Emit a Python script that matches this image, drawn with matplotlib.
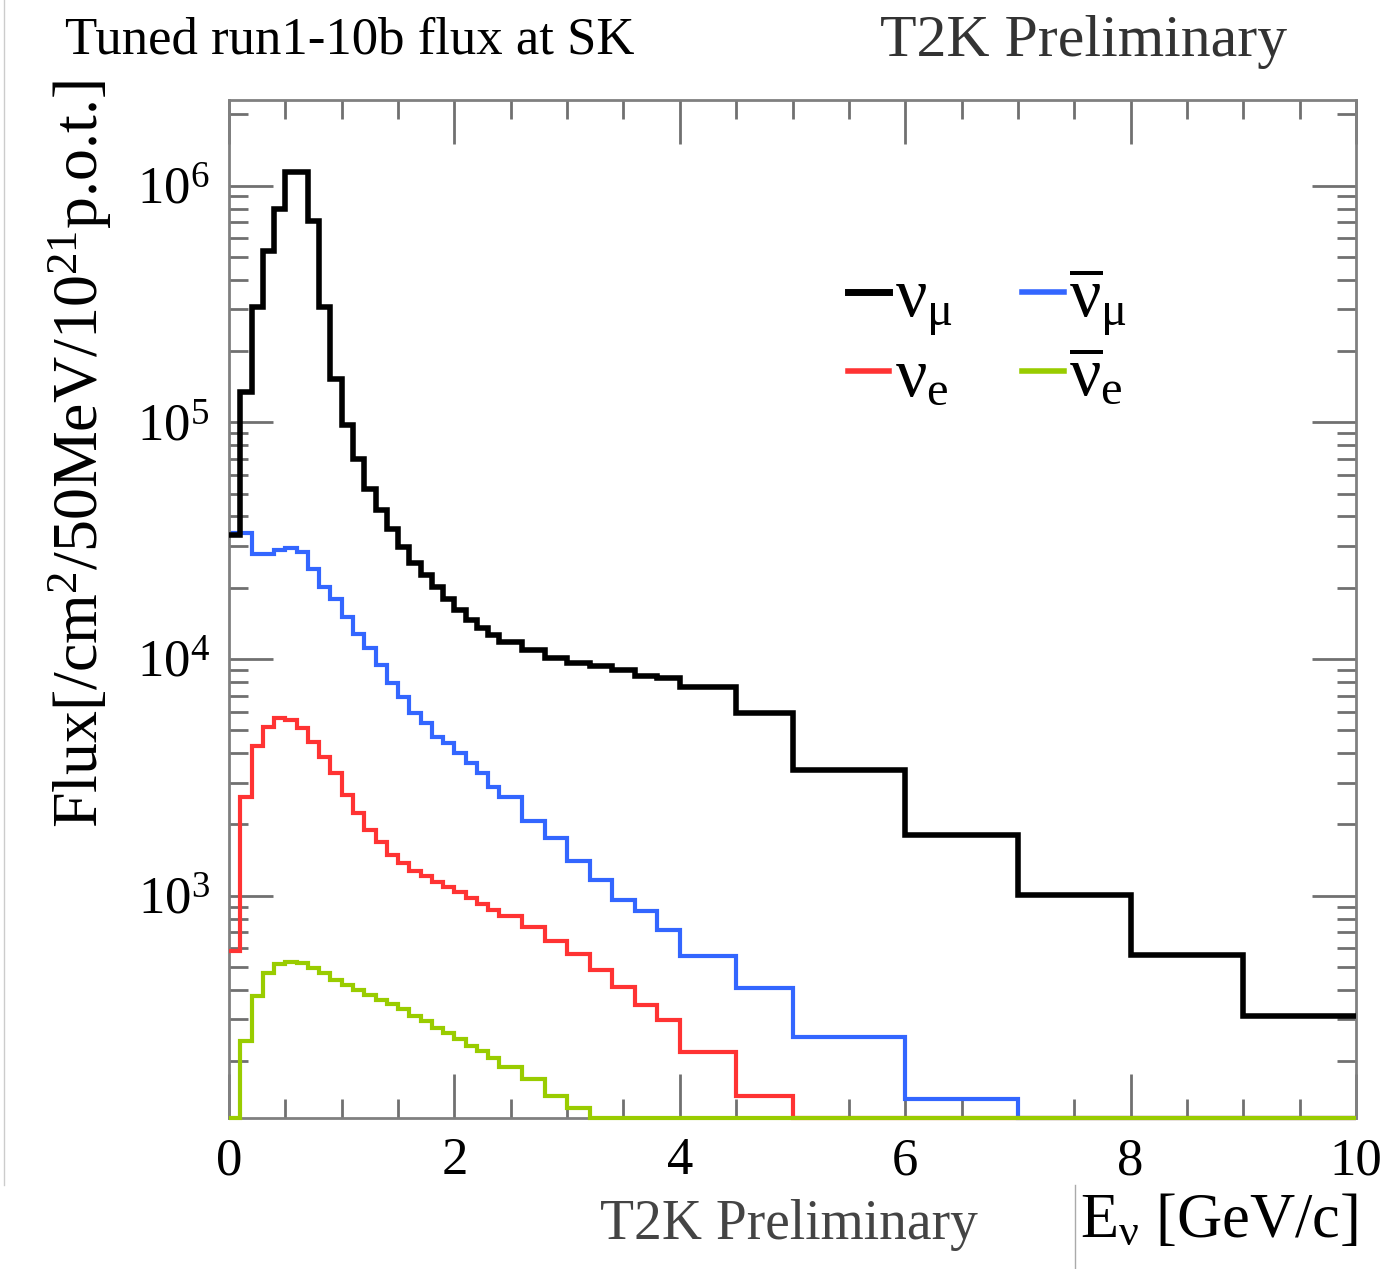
import matplotlib
matplotlib.use("Agg")
import matplotlib.pyplot as plt
import matplotlib.ticker as ticker
from matplotlib.lines import Line2D
import numpy as np

# binning of the flux histograms (GeV)
edges = np.concatenate([np.arange(0, 2.41, 0.1),
                        np.arange(2.6, 4.01, 0.2),
                        [4.5, 5, 6, 7, 8, 9, 10]])

numu = [33300, 134000, 306000, 530000, 798000, 1140000, 1140000, 710000,
        306000, 153000, 97000, 70000, 52500, 42500, 35300, 29800, 25400,
        22600, 20200, 18000, 16100, 14600, 13500, 12600,
        11800, 10900, 10100, 9600, 9300, 8970, 8500, 8350,
        7640, 5920, 3400, 1810, 1010, 564, 310]

numubar = [33900, 33900, 27900, 27900, 28800, 29300, 28400, 24100, 20200,
           18000, 15100, 12800, 11100, 9430, 7900, 6930, 5900, 5360, 4700,
           4400, 4000, 3630, 3300, 2890,
           2600, 2060, 1750, 1400, 1170, 962, 859, 719,
           555, 409, 254, 138, 0, 0, 0]

nue = [582, 2620, 4270, 5180, 5620, 5530, 5100, 4480, 3870, 3300, 2670,
       2230, 1900, 1690, 1490, 1370, 1270, 1210, 1140, 1090, 1040, 980,
       925, 870,
       821, 738, 641, 566, 483, 412, 345, 299,
       218, 142, 0, 0, 0, 0, 0]

nuebar = [0, 243, 376, 472, 512, 523, 517, 496, 472, 442, 421, 401, 382,
          364, 347, 331, 310, 295, 277, 264, 247, 232, 221, 207,
          188, 168, 143, 127, 0, 0, 0, 0,
          0, 0, 0, 0, 0, 0, 0]

ymin, ymax = 115, 2.3e6

plt.rcParams['font.family'] = ['Liberation Serif', 'DejaVu Serif']
plt.rcParams['mathtext.fontset'] = 'custom'
plt.rcParams['mathtext.rm'] = 'Liberation Serif'
plt.rcParams['mathtext.it'] = 'Liberation Serif'
plt.rcParams['mathtext.bf'] = 'Liberation Serif:bold'

fig = plt.figure(figsize=(13.84, 12.69), dpi=100)
ax = fig.add_axes([229/1384, 1 - 1118/1269, (1356 - 229)/1384, (1118 - 100)/1269])

# ROOT draws empty bins on the lower frame
series = [(numubar, '#3366ff', 3, r'$\overline{\nu}_{\mu}$', 2),
          (nue, '#ff3333', 3, r'$\nu_{e}$', 3),
          (nuebar, '#99cc00', 3, r'$\overline{\nu}_{e}$', 4),
          (numu, 'black', 4, r'$\nu_{\mu}$', 5)]
handles = {}
for vals, col, lw, lab, z in series:
    v = np.maximum(np.array(vals, dtype=float), ymin)
    ax.stairs(v, edges, color=col, lw=lw, baseline=None,
              zorder=z, clip_on=False)
    handles[lab] = Line2D([], [], color=col, lw=lw + 1)

ax.set_yscale('log')
ax.set_xlim(0, 10)
ax.set_ylim(ymin, ymax)

for s in ax.spines.values():
    s.set_color('#808080')
    s.set_linewidth(2)

ax.xaxis.set_major_locator(ticker.MultipleLocator(2))
ax.xaxis.set_minor_locator(ticker.MultipleLocator(0.5))
ax.yaxis.set_major_locator(ticker.LogLocator(base=10))
ax.yaxis.set_minor_locator(ticker.LogLocator(base=10, subs=np.arange(2, 10)))
ax.yaxis.set_minor_formatter(ticker.NullFormatter())
ax.tick_params(which='both', direction='in', top=True, right=True,
               color='#707070', width=2, labelsize=38)
ax.tick_params(which='major', length=32)
ax.tick_params(which='minor', length=14)
ax.tick_params(axis='y', pad=14)
ax.tick_params(axis='x', pad=14)

order = [r'$\nu_{\mu}$', r'$\nu_{e}$', r'$\overline{\nu}_{\mu}$', r'$\overline{\nu}_{e}$']
ax.legend([handles[k] for k in order], order, ncol=2, frameon=False,
          fontsize=50, handlelength=0.6, handletextpad=0.08,
          columnspacing=1.0, labelspacing=0.12, borderpad=0,
          loc='upper left', bbox_to_anchor=(813/1384, 1 - 231/1269),
          bbox_transform=fig.transFigure)

fig.text(80/1384, 1 - 80/1269, r'Flux[/cm$^{2}$/50MeV/10$^{21}$p.o.t.]',
         rotation=90, ha='center', va='top', fontsize=46)
fig.text(65/1384, 1 - 40/1269, 'Tuned run1-10b flux at SK',
         ha='left', va='center', fontsize=38)
fig.text(880/1384, 1 - 42/1269, 'T2K Preliminary',
         ha='left', va='center', fontsize=43, color='#333333')
fig.text(600/1384, 1 - 1225/1269, 'T2K Preliminary',
         ha='left', va='center', fontsize=40, color='#444444')
fig.text(1358/1384, 1 - 1222/1269, r'E$_{\nu}$ [GeV/c]',
         ha='right', va='center', fontsize=45)

# thin border lines from the screenshot
fig.add_artist(Line2D([4/1384, 4/1384], [1 - 1185/1269, 1], color='#cccccc', lw=1))
fig.add_artist(Line2D([1075/1384, 1075/1384], [0, 1 - 1185/1269], color='#aaaaaa', lw=1))

fig.savefig('out.png', dpi=100)
